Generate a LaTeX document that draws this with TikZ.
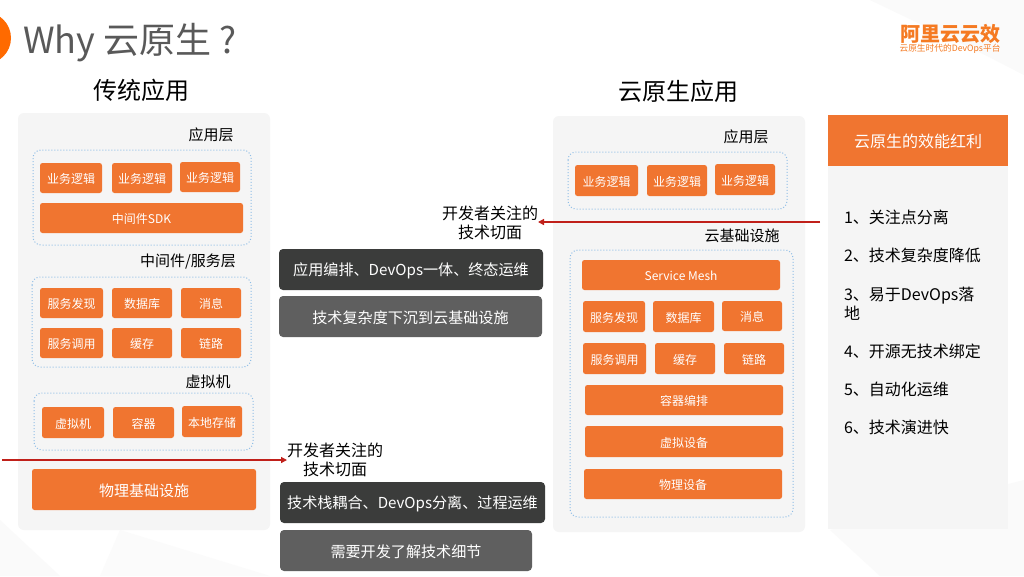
\documentclass[tikz,border=0pt]{standalone}
\usepackage{fontspec}
\setmainfont{Noto Sans CJK SC}
\usetikzlibrary{arrows.meta}
\definecolor{orbox}{HTML}{F07530}
\definecolor{panel}{HTML}{F5F5F5}
\definecolor{dotb}{HTML}{8FBDE6}
\definecolor{darkb}{HTML}{3B3C3B}
\definecolor{grayb}{HTML}{5F5F5F}
\definecolor{redl}{HTML}{C0201A}
\definecolor{logoo}{HTML}{F57A22}
\definecolor{titlec}{HTML}{595959}
\definecolor{circ}{HTML}{FF6A00}
\newcommand{\fsl}[2]{\fontsize{#1}{#2}\selectfont}
\newcommand{\fs}[1]{\fontsize{#1}{19}\selectfont}
\tikzset{
  x=1pt,y=-1pt,
  every node/.style={inner sep=0pt,outer sep=0pt,align=center},
  ob/.style={fill=orbox,rounded corners=2.5pt,text=white,font=\fs{12}},
  obl/.style={ob,font=\fs{15}},
  panelbox/.style={fill=panel,rounded corners=6pt},
  dotbox/.style={draw=dotb,line width=1pt,dotted,rounded corners=8pt},
  lbl/.style={text=black,font=\fs{15}},
  head/.style={text=black,font=\fsl{24}{29}},
  darkbox/.style={fill=darkb,rounded corners=4pt,text=white,font=\fs{15.1}},
  graybox/.style={fill=grayb,rounded corners=4pt,text=white,font=\fs{15.1}},
  focus/.style={text=black,font=\fs{16}},
  item/.style={text=black,font=\fs{16},anchor=west,align=left},
  headbox/.style={fill=orbox,text=white,font=\fs{16}},
  redarrow/.style={draw=redl,line width=1.3pt,-{Triangle[length=6pt,width=6pt]}}
}
% box from corners: name, x1, y1, x2, y2, style, text
\newcommand{\bx}[7]{\node[#6,minimum width={#4-#2},minimum height={#5-#3}] (#1) at ({(#2+#4)/2},{(#3+#5)/2}) {\raisebox{-1pt}[\height][\depth]{#7}};}
\begin{document}
\begin{tikzpicture}
\useasboundingbox (0,0) rectangle (1024,576);
\fill[white] (0,0) rectangle (1024,576);
% faint background facets
\fill[black!2] (870,0) -- (1024,0) -- (1024,75) -- (985,55) -- cycle;
\fill[black!2] (0,520) -- (60,576) -- (0,576) -- cycle;
\fill[black!1.5] (120,530) -- (270,576) -- (100,576) -- cycle;
\fill[black!2] (830,530) -- (1024,480) -- (1024,576) -- (880,576) -- cycle;
% title
\fill[circ] (-15,38) circle (26);
\node[text=titlec,font=\fsl{36}{40},anchor=west] (title) at (23,43) {Why 云原生 ?};
% logo
\node[text=logoo,font=\fs{20}\bfseries] (logo) at (950,34) {阿里云云效};
\node[text=logoo,font=\fs{8.7}] (slogan) at (950,48.5) {云原生时代的DevOps平台};
% headings
\node[head] (hleft) at (141,90) {传统应用};
\node[head] (hright) at (678,91) {云原生应用};
% left panel
\fill[panelbox] (18,113) rectangle (270,530);
\node[lbl] (l1) at (211,135) {应用层};
\draw[dotbox] (33,150) rectangle (251,245);
\bx{a1}{40}{163}{102}{193}{ob}{业务逻辑}
\bx{a2}{112}{163}{172}{193}{ob}{业务逻辑}
\bx{a3}{180}{162}{240}{192}{ob}{业务逻辑}
\bx{a4}{40}{203}{243}{233}{ob}{中间件SDK}
\node[lbl] (l2) at (188,262) {中间件/服务层};
\draw[dotbox] (32,277) rectangle (251,367);
\bx{b1}{40}{288}{103}{318}{ob}{服务发现}
\bx{b2}{112}{288}{172}{318}{ob}{数据库}
\bx{b3}{181}{288}{241}{318}{ob}{消息}
\bx{b4}{40}{328}{103}{358}{ob}{服务调用}
\bx{b5}{112}{328}{172}{358}{ob}{缓存}
\bx{b6}{181}{328}{241}{358}{ob}{链路}
\node[lbl] (l3) at (208,382) {虚拟机};
\draw[dotbox] (34,393) rectangle (253,450);
\bx{c1}{42}{407}{104}{438}{ob}{虚拟机}
\bx{c2}{113}{407}{174}{438}{ob}{容器}
\bx{c3}{182}{406}{242}{437}{ob}{本地存储}
\bx{c4}{32}{469}{256}{510}{obl}{物理基础设施}
% middle
\bx{m1}{279}{249}{543}{290}{darkbox}{应用编排、DevOps一体、终态运维}
\bx{m2}{279}{296}{542}{337}{graybox}{技术复杂度下沉到云基础设施}
\bx{m3}{280}{482}{545}{523}{darkbox}{技术栈耦合、DevOps分离、过程运维}
\bx{m4}{280}{530}{532}{571}{graybox}{需要开发了解技术细节}
\node[focus] (f1) at (490,223) {开发者关注的\\技术切面};
\node[focus] (f2) at (335,460) {开发者关注的\\技术切面};
% right panel
\fill[panelbox] (553,116) rectangle (805,532);
\node[lbl] (r1) at (746,137) {应用层};
\draw[dotbox] (568,152) rectangle (787,209);
\bx{d1}{575}{165}{638}{196}{ob}{业务逻辑}
\bx{d2}{647}{165}{707}{196}{ob}{业务逻辑}
\bx{d3}{715}{164}{775}{195}{ob}{业务逻辑}
\node[lbl] (r2) at (742,236) {云基础设施};
\draw[dotbox] (570,250) rectangle (793,517);
\bx{e0}{582}{260}{780}{290}{ob}{Service Mesh}
\bx{e1}{583}{301}{645}{332}{ob}{服务发现}
\bx{e2}{653}{301}{714}{332}{ob}{数据库}
\bx{e3}{722}{301}{782}{331}{ob}{消息}
\bx{e4}{583}{343}{646}{374}{ob}{服务调用}
\bx{e5}{655}{343}{715}{374}{ob}{缓存}
\bx{e6}{724}{343}{784}{374}{ob}{链路}
\bx{e7}{585}{385}{783}{415}{ob}{容器编排}
\bx{e8}{585}{426}{783}{457}{ob}{虚拟设备}
\bx{e9}{584}{469}{782}{499}{ob}{物理设备}
% benefits column
\fill[panel] (828,166) rectangle (1008,529);
\bx{g0}{828}{115}{1008}{166}{headbox}{云原生的效能红利}
\node[item] (i1) at (844,217) {1、关注点分离};
\node[item] (i2) at (844,255) {2、技术复杂度降低};
\node[item] (i3) at (844,304) {3、易于DevOps落\\地};
\node[item] (i4) at (844,351) {4、开源无技术绑定};
\node[item] (i5) at (844,389) {5、自动化运维};
\node[item] (i6) at (844,427) {6、技术演进快};
% arrows
\coordinate (s1) at (820,222);
\coordinate (s2) at (2,460);
\draw[redarrow] (s1) -- (f1.east |- s1);
\draw[redarrow] (s2) -- (f2.west |- s2);
\end{tikzpicture}
\end{document}
